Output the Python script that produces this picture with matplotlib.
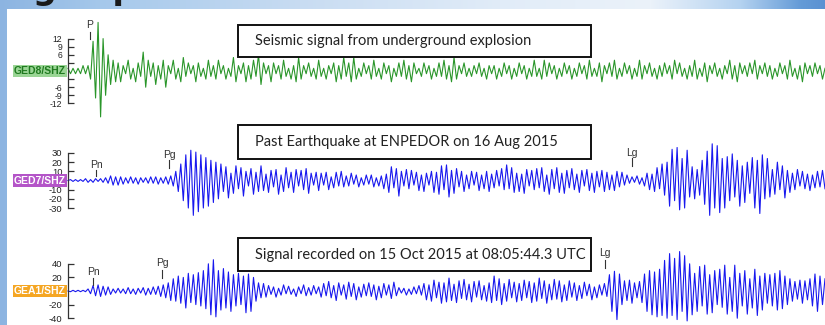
import numpy as np
import matplotlib
matplotlib.use('Agg')
import matplotlib.pyplot as plt
from matplotlib.patches import Rectangle

plt.rcParams['font.family'] = ['Liberation Sans', 'DejaVu Sans']

W, H = 825, 325

# peak-to-peak extremes (counts, left to right)
ged8 = [1, -1, 1, -1, 1, -1, 2, -1, 2, -3, 11, -10, 18, -17, 12, -9, 6, -5, 4, -4,
        3, -4, 2, -1, 4, -3, 1, -4, 3, -2, 7, -6, 4, -2, 3, -5, 2, -3, 4, -6,
        2, -1, 4, -3, 1, -4, 5, -2, 3, -1, 2, -4, 3, -2, 1, -3, 4, -2, 2, -3,
        4, -1, 2, -3, 1, -2, 5, -4, 2, -1, 3, -4, 2, -3, 4, -2, 6, -5, 3, -1,
        2, -4, 3, -1, 2, -3, 4, -2, 1, -3, 2, -4, 5, -3, 2, -1, 3, -2, 1, -3,
        4, -2, 1, -3, 2, -1, 3, -4, 2, -3, 5, -2, 3, -4, 5, -3, 1, -2, 3, -1,
        2, -3, 4, -2, 1, -3, 3, -1, 2, -4, 1, -2, 3, -2, 4, -3, 2, -4, 3, -1,
        1, -2, 3, -1, 2, -3, 1, -2, 3, -2, 4, -3, 2, -4, 5, -3, 2, -1, 3, -2,
        1, -2, 2, -1, 3, -2, 1, -3, 2, -1, 2, -3, 1, -2, 3, -1, 2, -3, 1, -2,
        3, -1, 2, -3, 1, -2, 4, -2, 1, -3, 4, -2, 3, -1, 2, -3, 1, -2, 3, -1,
        2, -3, 1, -2, 3, -1, 2, -3, 4, -2, 1, -2, 3, -4, 2, -1, 3, -2, 4, -3,
        1, -2, 3, -1, 2, -3, 1, -2, 4, -3, 2, -1, 3, -2, 1, -3, 2, -2, 3, -1,
        2, -3, 4, -1, 3, -2, 1, -3, 2, -2, 4, -3, 1, -2, 3, -4, 2, -1, 3, -2,
        1, -3, 2, -1, 4, -3, 2, -4, 3, -1, 2, -2, 3, -1, 4, -3, 2, -1, 3, -2,
        2, -3, 1, -2, 3, -1, 2, -3, 4, -2, 1, -3, 2, -4, 3, -1, 2, -2, 3, -1, 2, -3, 1]

ged7 = [0, 1, -1, 1, -1, 1, -1, 2, -2, 1, -2, 2, -1, 2, -2, 3, -3, 5, -5, 4,
        -5, 4, -4, 3, -3, 4, -3, 3, -4, 3, -2, 3, -3, 4, -3, 4, -4, 3, -3, 4,
        -4, 5, -6, 10, -12, 18, -22, 28, -30, 33, -38, 31, -34, 28, -30, 25, -28, 22, -24, 20,
        -20, 18, -12, 15, -19, 8, -14, 16, -9, 14, -17, 10, -6, 13, -15, 9, -12, 16, -11, 7,
        -13, 11, -7, 12, -15, 6, -12, 14, -8, 9, -13, 12, -6, 11, -10, 13, -14, 8, -5, 9,
        -11, 8, -5, 9, -10, 4, -8, 9, -6, 10, -7, 5, -6, 8, -4, 6, -7, 3, -5, 6,
        -4, 6, -7, 3, -6, 5, -9, 7, -13, 15, -8, 13, -17, 10, -6, 12, -9, 11, -5, 9,
        -11, 6, -12, 8, -5, 10, -13, 9, -15, 16, -10, 17, -18, 11, -14, 13, -7, 10, -12, 6,
        -9, 10, -5, 9, -11, 6, -9, 10, -12, 7, -8, 11, -6, 13, -10, 17, -9, 14, -13, 8,
        -12, 7, -14, 12, -6, 11, -10, 13, -8, 14, -12, 6, -15, 12, -9, 14, -13, 8, -14, 11,
        -8, 13, -10, 7, -13, 11, -6, 12, -11, 8, -13, 10, -7, 11, -12, 9, -10, 6, -11, 10,
        -7, 9, -5, 6, -3, 4, -2, 5, -4, 3, -6, 8, -10, 7, -12, 14, -9, 18, -16, 20,
        -28, 34, -22, 36, -32, 24, -30, 33, -18, 15, -20, 12, -16, 22, -26, 32, -38, 40, -30, 38,
        -35, 24, -30, 26, -22, 29, -18, 22, -28, 16, -24, 20, -14, 25, -30, 22, -36, 28, -20, 24,
        -18, 12, -15, 20, -10, 16, -19, 11, -13, 8, -10, 12, -6, 10, -9, 7, -11, 6, -8, 10, -7, 11, -9]

gea1 = [0, -1, 1, -1, 1, -1, 1, -1, 3, -4, 8, -7, 9, -8, 7, -6, 6, -5, 3, -3,
        4, -3, 3, -4, 5, -4, 3, -5, 4, -3, 5, -6, 4, -5, 6, -5, 7, -8, 9, -10,
        12, -14, 18, -15, 22, -18, 20, -25, 26, -17, 24, -20, 27, -22, 30, -26, 40, -35, 46, -38,
        30, -28, 33, -25, 28, -30, 24, -22, 26, -20, 22, -32, 25, -30, 20, -15, 12, -10, 11, -9,
        8, -5, 6, -9, 4, -6, 9, -4, 7, -5, 3, -8, 6, -4, 9, -7, 5, -6, 8, -4,
        6, -9, 11, -7, 14, -10, 8, -14, 12, -6, 9, -12, 13, -8, 11, -13, 6, -9, 10, -7,
        12, -8, 9, -13, 7, -10, 11, -6, 9, -11, 13, -7, 5, -3, 4, -6, 3, -5, 6, -4,
        8, -6, 11, -13, 9, -15, 16, -10, 13, -18, 12, -16, 19, -14, 10, -17, 15, -11, 17, -13,
        10, -16, 14, -9, 15, -13, 8, -15, 12, -17, 22, -14, 18, -20, 11, -15, 17, -10, 13, -16,
        11, -14, 16, -10, 14, -17, 12, -15, 19, -11, 15, -18, 10, -13, 17, -12, 15, -16, 9, -14,
        15, -9, 12, -14, 8, -11, 13, -7, 10, -13, 6, -10, 9, -6, 11, -8, 24, -30, 29, -42,
        25, -20, 15, -14, 16, -18, 12, -10, 14, -17, 25, -30, 30, -35, 28, -38, 32, -36, 45, -40,
        55, -36, 48, -42, 58, -30, 52, -44, 40, -35, 26, -30, 36, -22, 38, -34, 24, -32, 30, -20,
        32, -24, 38, -34, 20, -30, 38, -40, 26, -22, 30, -34, 18, -25, 32, -36, 22, -28, 26, -18,
        24, -22, 26, -28, 30, -26, 22, -20, 18, -15, 14, -12, 16, -18, 15, -13, 18, -22, 25, -30, 22, -20, 18]

stations = ['GED8/SHZ', 'GED7/SHZ', 'GEA1/SHZ']
captions = ['Seismic signal from underground explosion',
            'Past Earthquake at ENPEDOR on 16 Aug 2015',
            'Signal recorded on 15 Oct 2015 at 08:05:44.3 UTC']

ged8_ticks = [12, 9, 6, 3, -3, -6, -9, -12]
ged8_ticklabels = ['12', '9', '6', '', '', '-6', '-9', '-12']
ged7_ticks = [30, 20, 10, -10, -20, -30]
ged7_ticklabels = ['30', '20', '10', '-10', '-20', '-30']
gea1_ticks = [40, 20, -20, -40]
gea1_ticklabels = ['40', '20', '-20', '-40']

# phase picks, sample index
ged8_picks = {'P': 8.8}
ged7_picks = {'Pn': 11.2, 'Pg': 40.3, 'Lg': 225.0}
gea1_picks = {'Pn': 10.0, 'Pg': 37.5, 'Lg': 214.2}

fig = plt.figure(figsize=(W / 100, H / 100), dpi=100)

# slide background
bg = fig.add_axes([0, 0, 1, 1], zorder=-10)
sx = [0, 100, 300, 500, 650, 740, 800, 825]
rgb = np.array([[140, 180, 225], [165, 200, 235], [200, 220, 242], [225, 236, 248],
                [235, 242, 250], [180, 210, 240], [100, 155, 215], [90, 145, 210]]) / 255
xs = np.arange(W)
grad = np.stack([np.interp(xs, sx, rgb[:, i]) for i in range(3)], axis=-1)[None, :, :]
bg.imshow(grad, aspect='auto', extent=(0, W, H, 0))
bg.add_patch(Rectangle((7, 9), W - 7, H - 9, facecolor='white', edgecolor='none', zorder=5))
bg.set_xlim(0, W)
bg.set_ylim(H, 0)
bg.axis('off')
# slide title, only its descenders show above the panel
bg.text(-4, -1, 'Big explosion', fontsize=24, fontweight='bold', color='#1a1a1a',
        family='DejaVu Sans', va='baseline', ha='left', zorder=6)


def draw_trace(vals, ticks, ticklabels, picks, center, ppu, top, bottom, color, pick_px, lsize):
    ax = fig.add_axes([68 / W, 1 - bottom / H, 757 / W, (bottom - top) / H])
    ax.patch.set_alpha(0)
    t = np.arange(len(vals))
    ax.plot(t, vals, color=color, lw=0.8, clip_on=False)
    ax.set_xlim(0, len(vals) - 1)
    ax.set_ylim((center - bottom) / ppu, (center - top) / ppu)
    for s in ['top', 'right', 'bottom']:
        ax.spines[s].set_visible(False)
    ax.spines['left'].set_bounds(min(ticks), max(ticks))
    ax.spines['left'].set_color('#333333')
    ax.spines['left'].set_linewidth(0.9)
    ax.xaxis.set_visible(False)
    ax.set_yticks(ticks)
    ax.set_yticklabels(ticklabels)
    ax.tick_params(axis='y', direction='in', length=4, width=0.9, colors='#333333',
                   labelsize=lsize, labelcolor='#222222', pad=4)
    for name, tp in picks.items():
        txt_px, y0_px, y1_px = pick_px[name]
        ax.plot([tp, tp], [(center - y0_px) / ppu, (center - y1_px) / ppu],
                color='#333333', lw=0.8, clip_on=False)
        ax.text(tp, (center - txt_px) / ppu, name, fontsize=7.5, color='#333333',
                ha='center', va='center')
    return ax


draw_trace(ged8, ged8_ticks, ged8_ticklabels, ged8_picks, 71, 2.7, 14, 126, '#2a962a',
           {'P': (25, 32, 39)}, 6.2)
draw_trace(ged7, ged7_ticks, ged7_ticklabels, ged7_picks, 180.5, 0.917, 128, 233, '#1818ee',
           {'Pn': (165, 170, 176), 'Pg': (155, 160, 168), 'Lg': (153, 158, 166)}, 6.8)
draw_trace(gea1, gea1_ticks, gea1_ticklabels, gea1_picks, 291, 0.68, 236, 325, '#1818ee',
           {'Pn': (272, 278, 285), 'Pg': (263, 270, 278), 'Lg': (253, 260, 268)}, 6.8)

# annotations: station tags and caption boxes
ov = fig.add_axes([0, 0, 1, 1], zorder=10)
ov.set_xlim(0, W)
ov.set_ylim(H, 0)
ov.axis('off')
tag_y = [71, 180.5, 291]
tag_bg = ['#9ad595', '#b455c8', '#f5a623']
tag_fg = ['#1f7a1f', 'white', 'white']
for name, y, fc, tc in zip(stations, tag_y, tag_bg, tag_fg):
    ov.text(66, y, name, fontsize=7.5, fontweight='bold', color=tc, ha='right', va='center',
            bbox=dict(boxstyle='square,pad=0.12', fc=fc, ec='none'))

box_y = [(25, 57), (125, 159), (238, 271)]
for cap, (y0, y1) in zip(captions, box_y):
    ov.add_patch(Rectangle((238, y0), 353, y1 - y0, facecolor='white', edgecolor='#111111', lw=1.4))
    ov.text(255, (y0 + y1) / 2, cap, fontsize=10.5, family='Lato', color='#222222',
            ha='left', va='center')

fig.savefig('out.png', dpi=100)
